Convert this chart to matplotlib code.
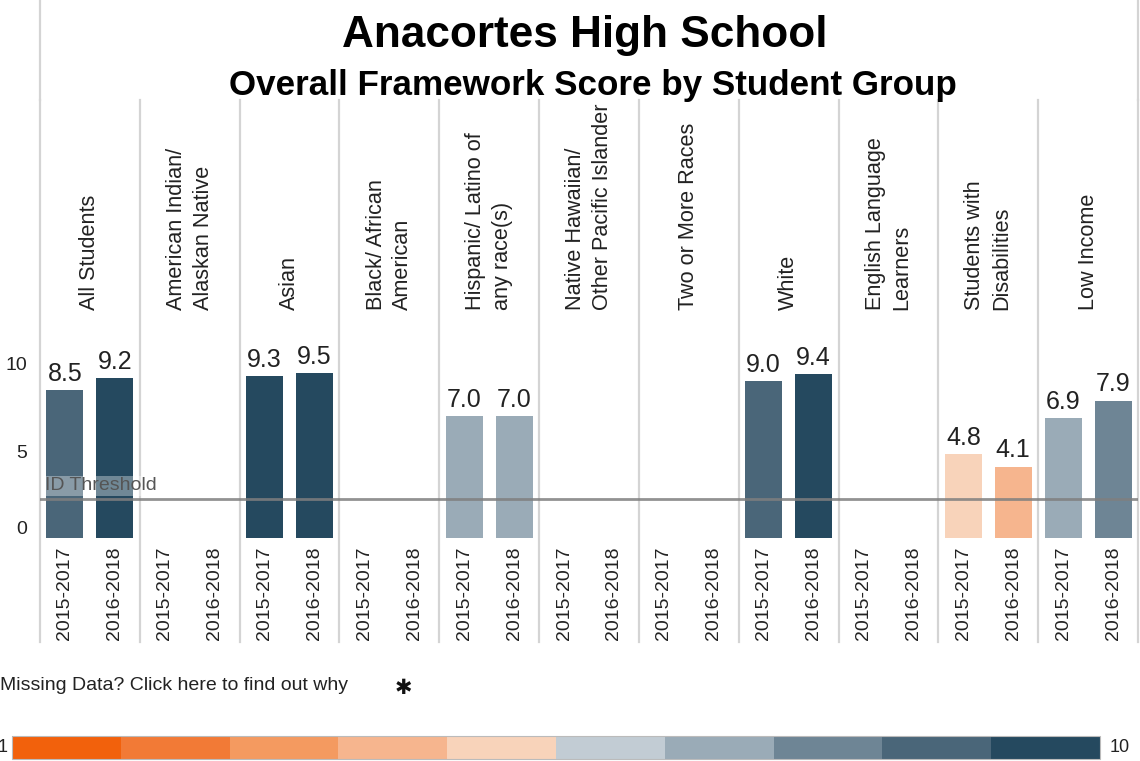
import numpy as np
import matplotlib
matplotlib.use("Agg")
import matplotlib.pyplot as plt
from matplotlib.colors import ListedColormap, Normalize
from matplotlib.cm import ScalarMappable
from matplotlib.lines import Line2D

plt.rcParams['font.family'] = ['Liberation Sans', 'DejaVu Sans']

# Data (nan = no bar shown)
groups = ["All Students", "American Indian/\nAlaskan Native", "Asian",
          "Black/ African\nAmerican", "Hispanic/ Latino of\nany race(s)",
          "Native Hawaiian/\nOther Pacific Islander", "Two or More Races",
          "White", "English Language\nLearners", "Students with\nDisabilities",
          "Low Income"]
years = ["2015-2017", "2016-2018"]
scores_2015_2017 = [8.5, np.nan, 9.3, np.nan, 7.0, np.nan, np.nan, 9.0, np.nan, 4.8, 6.9]
scores_2016_2018 = [9.2, np.nan, 9.5, np.nan, 7.0, np.nan, np.nan, 9.4, np.nan, 4.1, 7.9]
id_threshold = 2.25
scale_min, scale_max = 1, 10
scale_colors = ["#F2610C", "#F27A36", "#F49A60", "#F6B58E", "#F8D3BA",
                "#C2CCD4", "#9AABB7", "#6E8595", "#4A6679", "#25495F"]

cmap = ListedColormap(scale_colors)
norm = Normalize(vmin=scale_min, vmax=scale_max)

W, H = 1140, 761
fig = plt.figure(figsize=(W / 100, H / 100), dpi=100)


def fx(px):
    return px / W


def fy(py):
    return 1 - py / H


# Main bar area: from y=100px (top) down to the zero line at y=538px
px_per_unit = 17.4
ax_top, ax_zero, sep_bottom = 100, 538, 642
ax_left, ax_right = 40, 1138
ax = fig.add_axes([fx(ax_left), fy(ax_zero), fx(ax_right - ax_left), (ax_zero - ax_top) / H])
ax.set_ylim(0, (ax_zero - ax_top) / px_per_unit)
n_groups = len(groups)
ax.set_xlim(0, 2 * n_groups)
for s in ax.spines.values():
    s.set_visible(False)

# Group separators (extend below the zero line through the year labels)
ymin_sep = -(sep_bottom - ax_zero) / (ax_zero - ax_top)
for i in range(n_groups + 1):
    ax.axvline(2 * i, ymin=ymin_sep, ymax=1, color="#D4D4D4", lw=1.6, clip_on=False, zorder=0)
# Outer lines go up to the top of the figure
for xp in (ax_left, ax_right):
    fig.add_artist(Line2D([fx(xp), fx(xp)], [fy(ax_top), 1.0], color="#D4D4D4", lw=1.6))

# Bars for both periods
bar_w = 0.74
x_positions = []
x_labels = []
for j, series in enumerate([scores_2015_2017, scores_2016_2018]):
    xs = np.arange(n_groups) * 2 + j + 0.5
    x_positions.extend(xs)
    x_labels.extend([years[j]] * n_groups)
    for x, v in zip(xs, series):
        if np.isnan(v):
            continue
        ax.bar(x, v, width=bar_w, color=cmap(norm(v)), zorder=2)
        ax.annotate(f"{v:.1f}", (x, v), xytext=(0, 3), textcoords="offset points",
                    ha="center", va="bottom", fontsize=18, color="#222222")

# Year labels under each bar slot
ax.set_xticks(x_positions)
ax.set_xticklabels(x_labels, rotation=90, fontsize=14, color="#222222")
ax.tick_params(axis="x", length=0, pad=6)

# Y axis ticks
ax.set_yticks([0, 5, 10])
ax.set_yticklabels(["0", "5", "10"], fontsize=14, color="#222222")
ax.tick_params(axis="y", length=0, pad=9)
ax.get_yticklabels()[0].set_verticalalignment("bottom")

# Group headers (rotated)
header_y = (ax_zero - 310) / px_per_unit
for i, g in enumerate(groups):
    ax.text(2 * i + 1, header_y, g, rotation=90, ha="center", va="bottom",
            multialignment="left", fontsize=15.6, color="#222222", linespacing=1.35)

# ID threshold line
ax.axhline(id_threshold, color="#7F7F7F", lw=2, alpha=0.85, zorder=3)
ax.text(0.1, id_threshold + 0.25, "ID Threshold", fontsize=14, color="#555555",
        ha="left", va="bottom", zorder=4,
        bbox=dict(facecolor="white", alpha=0.35, edgecolor="none", pad=1))

# Titles
fig.text(fx(585), fy(35), "Anacortes High School", fontsize=31.8, fontweight="bold",
         ha="center", va="center")
fig.text(fx(593), fy(86), "Overall Framework Score by Student Group", fontsize=25.2,
         fontweight="bold", ha="center", va="center")

# Missing data note
fig.text(fx(0), fy(685), "Missing Data? Click here to find out why", fontsize=14,
         color="#222222", ha="left", va="center")
fig.text(fx(403), fy(688), "\u2731", fontsize=15, family=["DejaVu Sans"],
         ha="center", va="center", color="#111111")

# Colour scale legend
cax = fig.add_axes([fx(12), fy(759), fx(1100 - 12), 23 / H])
cb = fig.colorbar(ScalarMappable(norm=norm, cmap=cmap), cax=cax, orientation="horizontal")
cb.set_ticks([])
cb.outline.set_edgecolor("#BBBBBB")
fig.text(fx(3), fy(747), str(scale_min), fontsize=13, ha="center", va="center", color="#222222")
fig.text(fx(1120), fy(747), str(scale_max), fontsize=13, ha="center", va="center", color="#222222")

fig.savefig("out.png", dpi=100)
